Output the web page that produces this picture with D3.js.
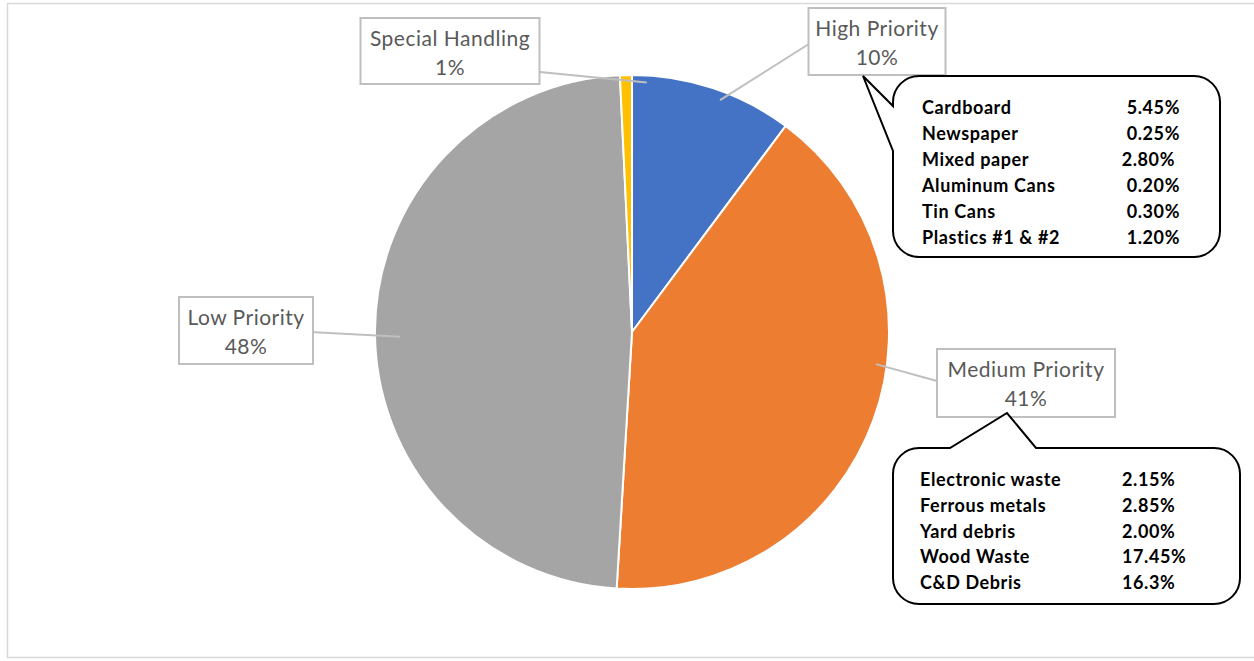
<!DOCTYPE html>
<html>
<head>
<meta charset="utf-8">
<script src="https://cdn.jsdelivr.net/npm/d3@7"></script>
<style>
  body { margin: 0; background: #fff; }
  svg { display: block; font-family: Lato, "Open Sans", sans-serif; }
</style>
</head>
<body>
<div id="chart"></div>
<script>
// slice data
const categories = ["High Priority", "Medium Priority", "Low Priority", "Special Handling"];
const shares = [10.2, 40.75, 48.3, 0.75];
const shareLabels = ["10%", "41%", "48%", "1%"];
const colors = ["#4472C4", "#ED7D31", "#A5A5A5", "#FFC000"];

// callout tables
const highItems = ["Cardboard", "Newspaper", "Mixed paper", "Aluminum Cans", "Tin Cans", "Plastics #1 & #2"];
const highValues = ["5.45%", "0.25%", "2.80%", "0.20%", "0.30%", "1.20%"];
const mediumItems = ["Electronic waste", "Ferrous metals", "Yard debris", "Wood Waste", "C&D Debris"];
const mediumValues = ["2.15%", "2.85%", "2.00%", "17.45%", "16.3%"];

const width = 1254;
const height = 661;
const cx = 632, cy = 332, radius = 257;

const svg = d3.select("#chart")
  .append("svg")
  .attr("width", width)
  .attr("height", height);

// outer frame
svg.append("rect")
  .attr("x", 7.5).attr("y", 3.5)
  .attr("width", 1252).attr("height", 654)
  .attr("fill", "none")
  .attr("stroke", "#d9d9d9")
  .attr("stroke-width", 1.5);

const pie = d3.pie().sort(null).value(d => d);
const arcs = pie(shares);
const arc = d3.arc().innerRadius(0).outerRadius(radius);

const g = svg.append("g").attr("transform", `translate(${cx},${cy})`);

g.selectAll("path")
  .data(arcs)
  .join("path")
  .attr("d", arc)
  .attr("fill", (d, i) => colors[i])
  .attr("stroke", "#fff")
  .attr("stroke-width", 2);

// label boxes: centre x, top y, size; leader: angle in degrees + point on the box it leaves from
const labelLayout = [
  { x: 877, y: 8, w: 137, h: 67, angle: 20.8, r: 248, from: [812, 42] },
  { x: 1026, y: 349, w: 178, h: 68, angle: 97.5, r: 246, from: [937, 381] },
  { x: 246, y: 297, w: 134, h: 67, angle: 268.8, r: 232, from: [310, 332] },
  { x: 450, y: 18, w: 179, h: 66, angle: 3.4, r: 250, from: [540, 72] }
];

const labels = svg.append("g");
arcs.forEach((a, i) => {
  const L = labelLayout[i];
  const rad = L.angle * Math.PI / 180;
  labels.append("line")
    .attr("x1", L.from[0]).attr("y1", L.from[1])
    .attr("x2", cx + L.r * Math.sin(rad))
    .attr("y2", cy - L.r * Math.cos(rad))
    .attr("stroke", "#bfbfbf")
    .attr("stroke-width", 2);
  labels.append("rect")
    .attr("x", L.x - L.w / 2).attr("y", L.y)
    .attr("width", L.w).attr("height", L.h)
    .attr("fill", "#fff")
    .attr("stroke", "#bfbfbf")
    .attr("stroke-width", 2);
  [categories[i], shareLabels[i]].forEach((t, k) => {
    labels.append("text")
      .attr("x", L.x).attr("y", L.y + 28 + k * 29)
      .attr("text-anchor", "middle")
      .attr("font-size", 21)
      .attr("letter-spacing", 0.5)
      .attr("fill", "#595959")
      .text(t);
  });
});

// speech-bubble callouts
function bubble(x0, y0, x1, y1, r, tail) {
  const p = d3.path();
  p.moveTo(x0 + r, y0);
  if (tail.side === "top") {
    p.lineTo(tail.pts[0][0], y0);
    p.lineTo(tail.pts[1][0], tail.pts[1][1]);
    p.lineTo(tail.pts[2][0], y0);
  }
  p.lineTo(x1 - r, y0);
  p.arcTo(x1, y0, x1, y0 + r, r);
  p.lineTo(x1, y1 - r);
  p.arcTo(x1, y1, x1 - r, y1, r);
  p.lineTo(x0 + r, y1);
  p.arcTo(x0, y1, x0, y1 - r, r);
  if (tail.side === "left") {
    p.lineTo(x0, tail.pts[2][1]);
    p.lineTo(tail.pts[1][0], tail.pts[1][1]);
    p.lineTo(x0, tail.pts[0][1]);
  }
  p.lineTo(x0, y0 + r);
  p.arcTo(x0, y0, x0 + r, y0, r);
  p.closePath();
  return p.toString();
}

const callouts = svg.append("g");
callouts.append("path")
  .attr("d", bubble(893, 76, 1220, 257, 26, { side: "left", pts: [[893, 106], [863, 76], [893, 151]] }))
  .attr("fill", "#fff")
  .attr("stroke", "#000")
  .attr("stroke-width", 2);
callouts.append("path")
  .attr("d", bubble(893, 448, 1240, 604, 26, { side: "top", pts: [[950, 448], [1007, 413], [1036, 448]] }))
  .attr("fill", "#fff")
  .attr("stroke", "#000")
  .attr("stroke-width", 2);

function cell(x, y, t, anchor) {
  callouts.append("text")
    .attr("x", x).attr("y", y)
    .attr("text-anchor", anchor)
    .attr("font-size", 18)
    .attr("letter-spacing", 0.6)
    .attr("font-weight", "bold")
    .text(t);
}

const rowY1 = d3.scalePoint().domain(highItems).range([114, 244]);
highItems.forEach((t, i) => {
  cell(922, rowY1(t), t, "start");
  cell(i === 2 ? 1175 : 1180, rowY1(t), highValues[i], "end");
});

const rowY2 = d3.scalePoint().domain(mediumItems).range([486, 589]);
mediumItems.forEach((t, i) => {
  cell(920, rowY2(t), t, "start");
  cell(1122, rowY2(t), mediumValues[i], "start");
});
</script>
</body>
</html>
